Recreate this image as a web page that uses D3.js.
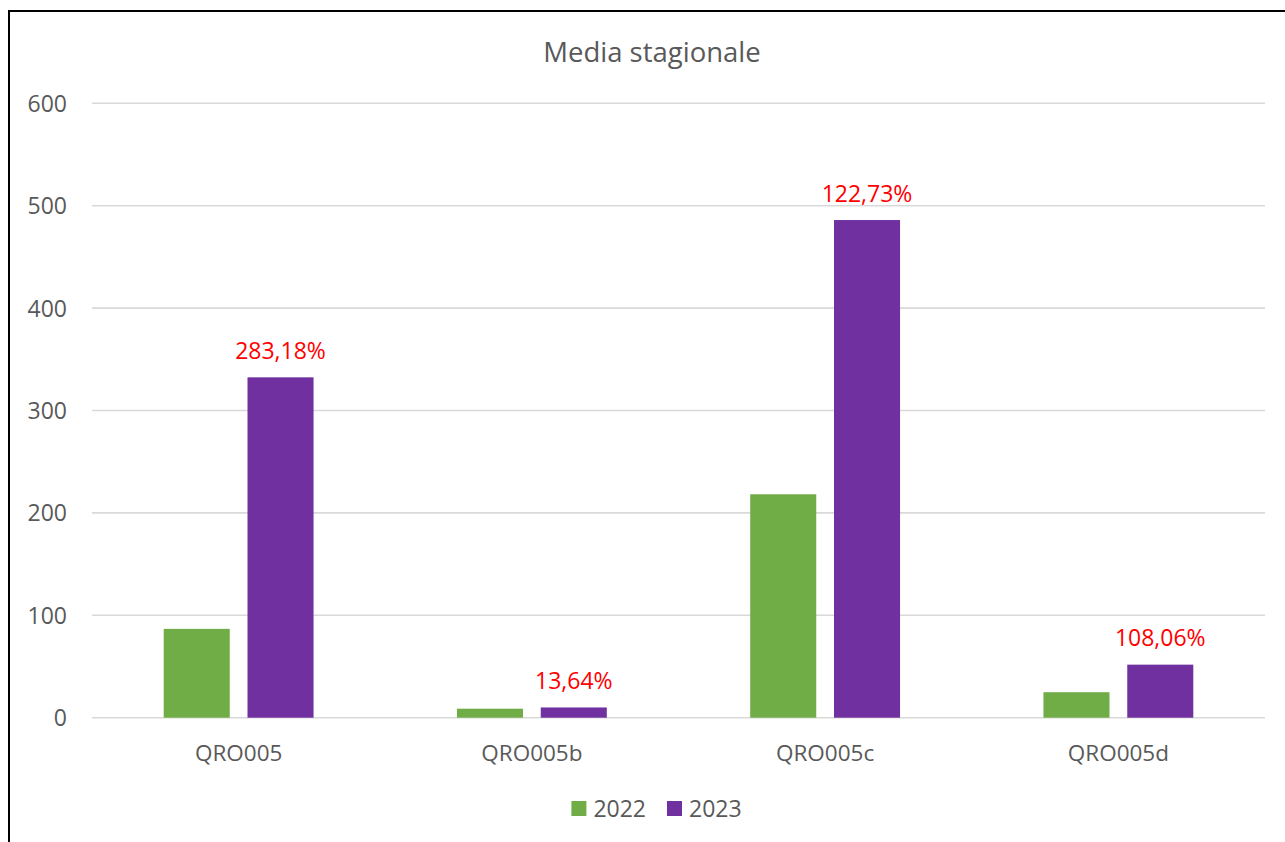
<!DOCTYPE html>
<html>
<head>
<meta charset="utf-8">
<script src="https://cdn.jsdelivr.net/npm/d3@7"></script>
<style>
  html, body { margin: 0; padding: 0; background: #fff; overflow: hidden; }
  svg { display: block; }
  text { font-family: "Open Sans", "Noto Sans", sans-serif; }
</style>
</head>
<body>
<svg id="chart" width="1285" height="842"></svg>
<script>
// Seasonal mean per station, two years, with the year-on-year change above 2023
const categories = ["QRO005", "QRO005b", "QRO005c", "QRO005d"];
const seriesNames = ["2022", "2023"];
const values2022 = [86.75, 8.8, 218.2, 24.9];
const values2023 = [332.4, 10.0, 486.0, 51.8];
const changeLabels = ["283,18%", "13,64%", "122,73%", "108,06%"];
const yTicks = [0, 100, 200, 300, 400, 500, 600];
const seriesColors = ["#70AD47", "#7030A0"];

const svg = d3.select("#chart");
const textColor = "#595959";

const plot = { left: 92, right: 1265, top: 103.3, bottom: 717.7 };

// outer frame (right and bottom edges fall outside the view)
svg.append("rect")
  .attr("x", 9).attr("y", 11)
  .attr("width", 1320).attr("height", 900)
  .attr("fill", "none").attr("stroke", "#000").attr("stroke-width", 2);

const y = d3.scaleLinear().domain([0, 600]).range([plot.bottom, plot.top]);

const x = d3.scaleBand()
  .domain(categories)
  .range([plot.left, plot.right])
  .paddingInner(0.489)
  .paddingOuter(0.2445);

const xInner = d3.scaleBand()
  .domain(seriesNames)
  .range([0, x.bandwidth()])
  .paddingInner(0.212)
  .paddingOuter(0);

// title
svg.append("text")
  .attr("x", 652).attr("y", 61.5)
  .attr("text-anchor", "middle")
  .attr("font-size", 27.5)
  .attr("fill", textColor)
  .text("Media stagionale");

// gridlines
svg.append("g")
  .selectAll("line")
  .data(yTicks)
  .join("line")
  .attr("x1", plot.left).attr("x2", plot.right)
  .attr("y1", d => y(d)).attr("y2", d => y(d))
  .attr("stroke", "#d9d9d9").attr("stroke-width", 1.6);

// y tick labels
const yAxis = d3.axisLeft(y).tickValues(yTicks).tickSize(0).tickPadding(0).tickFormat(d3.format("d"));
const yG = svg.append("g").attr("transform", `translate(${plot.left - 25},0)`).call(yAxis);
yG.select(".domain").remove();
yG.selectAll("text")
  .attr("font-size", 23)
  .attr("font-family", "'Open Sans', 'Noto Sans', sans-serif")
  .attr("fill", textColor)
  .attr("dy", "0.35em");

// bars
const rows = categories.map((c, i) => ({ cat: c, vals: [values2022[i], values2023[i]], label: changeLabels[i] }));

const groups = svg.append("g")
  .selectAll("g")
  .data(rows)
  .join("g")
  .attr("transform", d => `translate(${x(d.cat)},0)`);

groups.selectAll("rect")
  .data(d => d.vals.map((v, k) => ({ key: seriesNames[k], v, k })))
  .join("rect")
  .attr("x", d => xInner(d.key))
  .attr("y", d => y(d.v))
  .attr("width", xInner.bandwidth())
  .attr("height", d => y(0) - y(d.v))
  .attr("fill", d => seriesColors[d.k]);

// percentage change labels above the 2023 bars
groups.append("text")
  .attr("x", xInner("2023") + xInner.bandwidth() / 2)
  .attr("y", d => y(d.vals[1]) - 18.5)
  .attr("text-anchor", "middle")
  .attr("font-size", 23)
  .attr("fill", "#FF0000")
  .text(d => d.label);

// category labels
svg.append("g")
  .selectAll("text")
  .data(categories)
  .join("text")
  .attr("x", d => x(d) + x.bandwidth() / 2)
  .attr("y", 760.5)
  .attr("text-anchor", "middle")
  .attr("font-size", 22.5)
  .attr("fill", textColor)
  .text(d => d);

// legend
const legend = svg.append("g");
const items = legend.selectAll("g")
  .data(seriesNames)
  .join("g");
items.append("rect")
  .attr("width", 15).attr("height", 15)
  .attr("y", 801)
  .attr("fill", (d, i) => seriesColors[i]);
items.append("text")
  .attr("x", 22)
  .attr("y", 816.5)
  .attr("font-size", 23)
  .attr("fill", textColor)
  .text(d => d);

const widths = [];
items.each(function () { widths.push(this.getBBox().width); });
const gap = 21;
const total = d3.sum(widths) + gap * (widths.length - 1);
let cx = 656.5 - total / 2;
items.attr("transform", (d, i) => {
  const t = `translate(${cx},0)`;
  cx += widths[i] + gap;
  return t;
});
</script>
</body>
</html>
